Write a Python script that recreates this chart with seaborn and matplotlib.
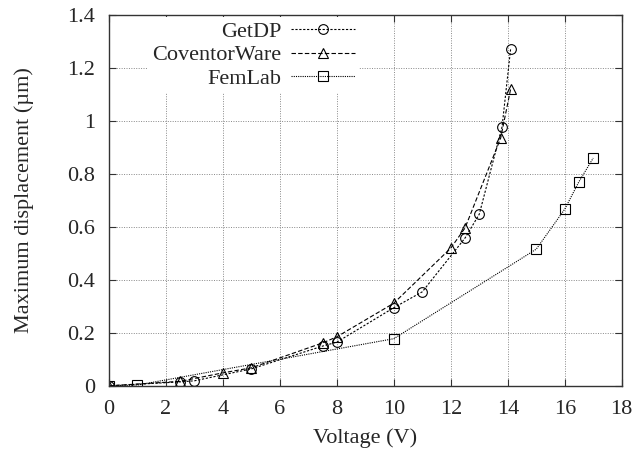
import numpy as np
import pandas as pd
import seaborn as sns
import matplotlib
matplotlib.use("Agg")
import matplotlib.pyplot as plt
from matplotlib.ticker import FuncFormatter

# ---------------------------
# Data
# ---------------------------
getdp_v = [0, 2.5, 3, 5, 7.5, 8, 10, 11, 12.5, 13, 13.8, 14.1]
getdp_d = [0, 0.015, 0.019, 0.064, 0.15, 0.165, 0.295, 0.355, 0.558, 0.648, 0.978, 1.272]

coventor_v = [0, 2.5, 4, 5, 7.5, 8, 10, 12, 12.5, 13.75, 14.1]
coventor_d = [0, 0.017, 0.049, 0.068, 0.162, 0.185, 0.312, 0.52, 0.596, 0.935, 1.12]

femlab_v = [0, 1, 10, 15, 16, 16.5, 17]
femlab_d = [0, 0.003, 0.178, 0.516, 0.667, 0.771, 0.86]

series = [
    ("GetDP", getdp_v, getdp_d, "o", (0, (2, 1.5))),
    ("CoventorWare", coventor_v, coventor_d, "^", (0, (4, 2))),
    ("FemLab", femlab_v, femlab_d, "s", (0, (1, 1))),
]

sns.set_style("ticks")
plt.rcParams["font.family"] = ["Liberation Serif", "DejaVu Serif"]

fig = plt.figure(figsize=(6.37, 4.55), dpi=100)
ax = fig.add_axes([0.171, 0.152, 0.805, 0.815])

for name, v, d, mk, ls in series:
    df = pd.DataFrame({"v": v, "d": d})
    sns.lineplot(data=df, x="v", y="d", ax=ax, label=name, sort=False,
                 estimator=None, color="black", linewidth=0.8, linestyle=ls,
                 marker=mk, markersize=7, markerfacecolor="none",
                 markeredgecolor="black", markeredgewidth=0.8)

ax.set_xlim(0, 18)
ax.set_ylim(0, 1.4)
ax.set_xticks(np.arange(0, 19, 2))
ax.set_yticks(np.arange(0, 1.41, 0.2))
ax.yaxis.set_major_formatter(FuncFormatter(lambda y, p: "%g" % round(y, 2)))

ax.grid(True, color="#888888", linestyle=(0, (1, 1.5)), linewidth=0.7)
ax.set_axisbelow(True)
ax.tick_params(direction="in", top=True, right=True, length=5, width=0.8,
               labelsize=16, color="#333333")
ax.tick_params(axis="x", pad=10)
ax.tick_params(axis="y", pad=10)
for s in ax.spines.values():
    s.set_linewidth(1.0)
    s.set_color("#333333")

ax.set_xlabel("Voltage (V)", fontsize=16, labelpad=7)
ax.set_ylabel("Maximum displacement (\u00b5m)", fontsize=16, labelpad=24)

leg = ax.legend(loc="upper left", bbox_to_anchor=(0.072, 1.0), markerfirst=False,
                frameon=True, fontsize=16, handlelength=2.9, handletextpad=0.4,
                labelspacing=0.12, borderpad=0.2, borderaxespad=0.1)
leg.get_frame().set_facecolor("white")
leg.get_frame().set_edgecolor("none")
leg.get_frame().set_alpha(1)
leg.get_frame().set_boxstyle("square", pad=0)
leg._legend_box.align = "right"

fig.savefig("out.png", dpi=100)
